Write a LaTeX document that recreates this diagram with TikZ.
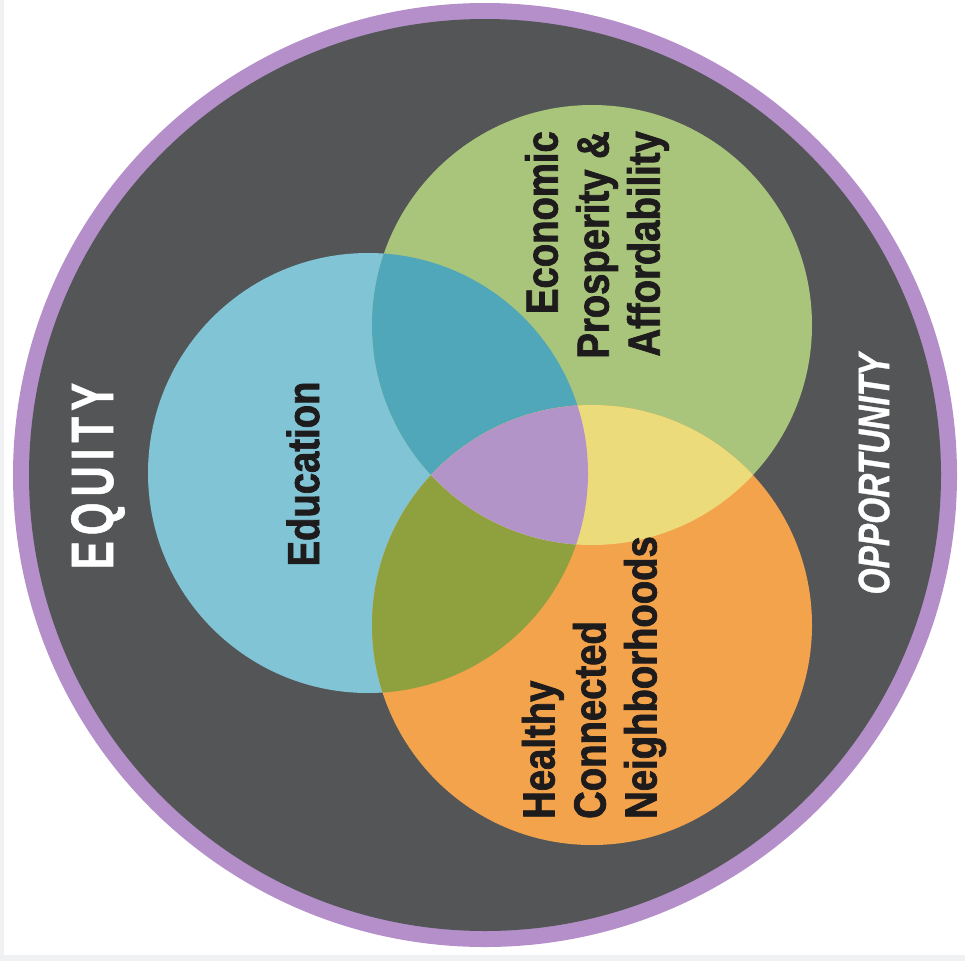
\documentclass[tikz,border=0pt]{standalone}
\usepackage{fontspec}
\newfontfamily\labelfont[FakeStretch=0.85,FakeBold=1.6]{Liberation Sans Bold}
\newfontfamily\eqfont[FakeStretch=0.7,LetterSpace=10,FakeBold=0.8]{Liberation Sans Bold}
\newfontfamily\oppfont[FakeStretch=0.76,FakeBold=0.8]{Liberation Sans Bold Italic}
\definecolor{frame}{RGB}{240,241,243}
\definecolor{ringpurple}{RGB}{180,143,201}
\definecolor{ringgray}{RGB}{83,85,87}
\definecolor{cblue}{RGB}{128,196,214}
\definecolor{cgreen}{RGB}{169,196,123}
\definecolor{corange}{RGB}{242,163,76}
\definecolor{cbg}{RGB}{79,167,185}
\definecolor{cbo}{RGB}{143,160,63}
\definecolor{cgo}{RGB}{236,219,123}
\definecolor{ctri}{RGB}{179,148,200}
\definecolor{txt}{RGB}{30,27,28}
\tikzset{
  vlabel/.style={rotate=90, inner sep=0pt, text=txt, font=\labelfont\fontsize{45}{51}\selectfont},
  ringlabel/.style={rotate=90, inner sep=0pt, text=white}
}
\begin{document}
\begin{tikzpicture}[x=1pt,y=-1pt]
\useasboundingbox (0,0) rectangle (965,961);
\fill[frame] (0,0) rectangle (965,961);
\fill[white] (4,0) rectangle (965,955);
% outer ring
\fill[ringpurple] (485,475) circle[radius=472pt];
\fill[ringgray] (485,475) circle[radius=456pt];
% coordinates of circle centres
\coordinate (cb) at (368,473);
\coordinate (cg) at (592,325);
\coordinate (co) at (592,625);
% circles
\fill[cblue] (cb) circle[radius=220pt];
\fill[cgreen] (cg) circle[radius=220pt];
\fill[corange] (co) circle[radius=220pt];
% pairwise intersections
\begin{scope}
  \clip (cb) circle[radius=220pt];
  \fill[cbg] (cg) circle[radius=220pt];
  \fill[cbo] (co) circle[radius=220pt];
\end{scope}
\begin{scope}
  \clip (cg) circle[radius=220pt];
  \fill[cgo] (co) circle[radius=220pt];
\end{scope}
% triple intersection
\begin{scope}
  \clip (cb) circle[radius=220pt];
  \clip (cg) circle[radius=220pt];
  \fill[ctri] (co) circle[radius=220pt];
\end{scope}
% labels
\node[vlabel] (edu) at (303,474) {Education};
\node[vlabel, align=right, anchor=east] (econ) at (597,131) {Economic\\Prosperity \&\\Affordability};
\node[vlabel, align=left, anchor=west] (health) at (594,819) {Healthy\\Connected\\Neighborhoods};
\node[ringlabel, font=\eqfont\fontsize{60}{64}\selectfont] (equity) at (98,476) {EQUITY};
\node[ringlabel, font=\oppfont\fontsize{44}{48}\selectfont] (opp) at (874,474) {OPPORTUNITY};
\end{tikzpicture}
\end{document}
